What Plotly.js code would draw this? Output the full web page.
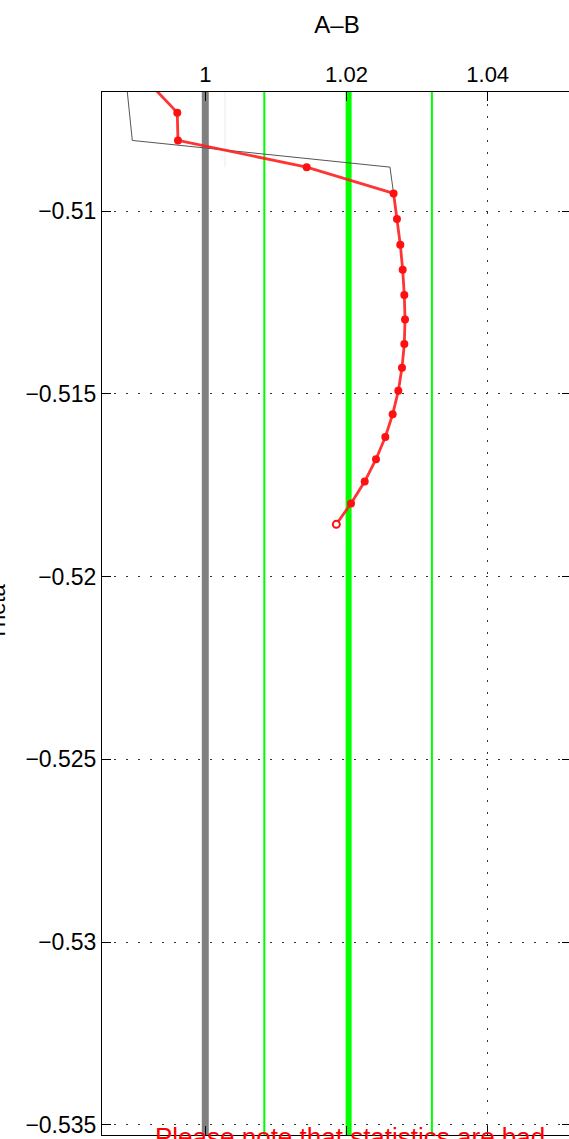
<!DOCTYPE html>
<html>
<head>
<meta charset="utf-8">
<script src="https://cdn.plot.ly/plotly-3.0.1.min.js"></script>
<style>
html,body{margin:0;padding:0;overflow:hidden;background:#fff;}
#chart{width:575px;height:1160px;}
</style>
</head>
<body>
<div id="chart"></div>
<script>
// ---- data ----
const xTickVals = [1, 1.02, 1.04];
const xTickText = ['1', '1.02', '1.04'];
const yTickVals = [-0.51, -0.515, -0.52, -0.525, -0.53, -0.535];
const yTickText = ['\u22120.51', '\u22120.515', '\u22120.52', '\u22120.525', '\u22120.53', '\u22120.535'];
const xRange = [0.98537, 1.0518];
const yRange = [-0.535274, -0.506745];

const refX = 1.0;          // thick grey reference line
const meanX = 1.0203;      // thick green line
const bandX = [1.00836, 1.0321]; // thin green lines
const faintX = 1.00279;    // faint grey line
const faintY = [-0.5060, -0.5088];

// red profile (A-B vs Theta)
const redX = [0.99231, 0.99603, 0.99613, 1.01436, 1.02667, 1.02715, 1.02762, 1.02796, 1.02819, 1.02829,
              1.02819, 1.02786, 1.02734, 1.02654, 1.02550, 1.02418, 1.02258, 1.02064, 1.01856];
const redY = [-0.50655, -0.50731, -0.50807, -0.50880, -0.50952, -0.51022, -0.51092, -0.51161, -0.51230, -0.51297,
              -0.51364, -0.51429, -0.51492, -0.51556, -0.51618, -0.51679, -0.51740, -0.51800, -0.51857];

// thin grey polyline
const greyX = [0.98885, 0.98966, 1.02616, 1.02667];
const greyY = [-0.50655, -0.50807, -0.50880, -0.50952];

const noteText = 'Please note that statistics are bad';

// ---- build ----
const ySpan = [yRange[1] + 0.001, yRange[0] - 0.001];
function vline(x, color, width, yv) {
  return {x: [x, x], y: yv || ySpan, mode: 'lines', type: 'scatter',
          line: {color: color, width: width}, hoverinfo: 'skip', showlegend: false};
}

const nRed = redX.length;
const traces = [
  vline(refX, '#808080', 7),
  vline(faintX, '#ebebeb', 1, faintY),
  vline(bandX[0], '#00ff00', 2),
  vline(bandX[1], '#00ff00', 2),
  vline(meanX, '#00ff00', 6),
  {x: greyX, y: greyY, mode: 'lines', type: 'scatter', line: {color: '#555555', width: 1},
   showlegend: false, hoverinfo: 'skip'},
  {x: redX, y: redY, mode: 'lines', type: 'scatter',
   line: {color: 'rgba(255,30,30,0.9)', width: 2.8}, showlegend: false},
  {x: redX.slice(0, nRed - 1), y: redY.slice(0, nRed - 1), mode: 'markers', type: 'scatter',
   marker: {color: '#ff1010', size: 8}, showlegend: false},
  {x: [redX[nRed - 1]], y: [redY[nRed - 1]], mode: 'markers', type: 'scatter',
   marker: {color: '#ffffff', size: 7, line: {color: '#ff1010', width: 2}}, showlegend: false}
];

const font = {family: 'Liberation Sans, Arial, sans-serif', size: 22, color: '#000'};
const axisCommon = {
  showline: true, linecolor: '#000', linewidth: 1, mirror: 'allticks',
  ticks: 'inside', ticklen: 9, tickcolor: '#000', tickwidth: 1,
  showgrid: true, gridcolor: '#333333', gridwidth: 1, griddash: '2px,10px',
  zeroline: false, tickfont: font, fixedrange: true
};

const layout = {
  width: 575, height: 1160,
  margin: {l: 102, r: 4, t: 92, b: 25},
  paper_bgcolor: '#fff', plot_bgcolor: '#fff',
  font: font,
  title: {text: 'A\u2013B', font: {family: font.family, size: 24, color: '#000'},
          xref: 'container', x: 337 / 575, yref: 'container', y: 1 - 25 / 1160,
          xanchor: 'center', yanchor: 'middle'},
  xaxis: Object.assign({}, axisCommon, {side: 'top', range: xRange, tickvals: xTickVals, ticktext: xTickText}),
  yaxis: Object.assign({}, axisCommon, {range: yRange, tickvals: yTickVals, ticktext: yTickText,
          tickfont: {family: font.family, size: 23, color: '#000'}}),
  annotations: [
    {text: 'Theta', xref: 'paper', yref: 'paper', x: (12 - 102) / 469, y: 0.5014,
     xanchor: 'right', yanchor: 'middle', textangle: -90, showarrow: false, font: font},
    {text: noteText, xref: 'paper', yref: 'paper', x: (350 - 102) / 469, y: (1135 - 1120) / 1043,
     xanchor: 'center', yanchor: 'top', showarrow: false,
     font: {family: font.family, size: 26, color: '#ff0000'}}
  ],
  showlegend: false
};

Plotly.newPlot('chart', traces, layout, {displayModeBar: false, staticPlot: true});
</script>
</body>
</html>
